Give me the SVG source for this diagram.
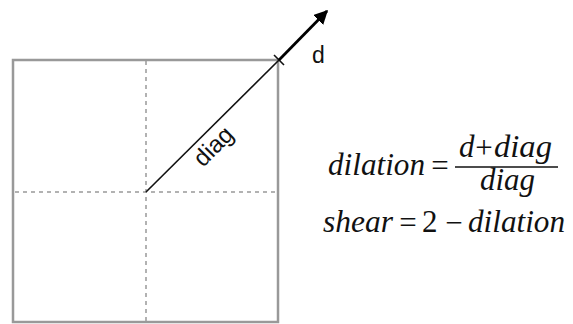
<svg xmlns="http://www.w3.org/2000/svg" width="573" height="324" viewBox="0 0 573 324">
<style>
.frame{fill:none;stroke:#999;stroke-width:2.5}
.dash{fill:none;stroke:#999;stroke-width:1.5;stroke-dasharray:4 4}
.sans{font-family:"Liberation Sans",Arial,sans-serif;fill:#111}
.math{font-family:"Liberation Serif","Times New Roman",serif;font-style:italic;font-size:31px;fill:#111}
.up{font-family:"Liberation Serif","Times New Roman",serif;font-size:31px;fill:#111}
</style>
<defs>
<marker id="arr" viewBox="0 0 10 10" refX="9" refY="5" markerWidth="5" markerHeight="5" orient="auto" markerUnits="strokeWidth">
<path d="M0,0 L10,5 L0,10 z" fill="#000"/>
</marker>
</defs>
<rect width="573" height="324" fill="#fff"/>
<g id="square">
<rect class="frame" x="13" y="60" width="265" height="262"/>
<line class="dash" x1="146" y1="61" x2="146" y2="322"/>
<line class="dash" x1="15" y1="192" x2="277" y2="192"/>
</g>
<g id="connectors">
<line x1="146" y1="192" x2="279" y2="60" stroke="#111" stroke-width="1.6"/>
<line x1="274" y1="55" x2="284" y2="65" stroke="#111" stroke-width="1.6"/>
<line x1="279" y1="60" x2="327" y2="11" stroke="#000" stroke-width="2.8" marker-end="url(#arr)"/>
</g>
<g id="label-diag">
<text class="sans" font-size="24" text-anchor="middle" transform="translate(219,152) rotate(-45)">diag</text>
</g>
<g id="label-d">
<text class="sans" font-size="23" x="312" y="63">d</text>
</g>
<g id="equation-dilation">
<text class="math" x="328" y="175" textLength="97" lengthAdjust="spacingAndGlyphs">dilation</text>
<text class="up" x="440" y="176" text-anchor="middle">=</text>
<line x1="455" y1="167" x2="558" y2="167" stroke="#111" stroke-width="1.5"/>
<text class="math" x="459" y="157">d</text>
<text class="up" x="484" y="158" text-anchor="middle">+</text>
<text class="math" x="494" y="157" textLength="58" lengthAdjust="spacingAndGlyphs">diag</text>
<text class="math" x="480" y="190" textLength="55" lengthAdjust="spacingAndGlyphs">diag</text>
</g>
<g id="equation-shear">
<text class="math" x="323" y="232" textLength="70" lengthAdjust="spacingAndGlyphs">shear</text>
<text class="up" x="408" y="233" text-anchor="middle">=</text>
<text class="up" x="422" y="232">2</text>
<text class="up" x="454" y="233" text-anchor="middle">−</text>
<text class="math" x="468" y="232" textLength="97" lengthAdjust="spacingAndGlyphs">dilation</text>
</g>
</svg>
